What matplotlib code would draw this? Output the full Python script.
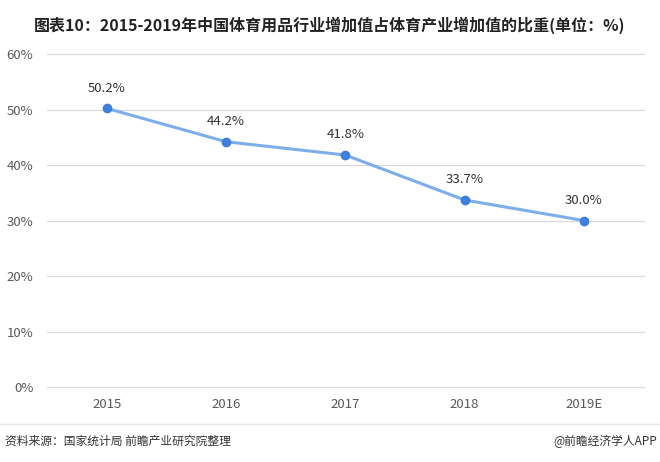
import numpy as np
import matplotlib.pyplot as plt
from matplotlib.lines import Line2D

plt.rcParams['font.family'] = ['Noto Sans CJK SC', 'DejaVu Sans']

years = ['2015', '2016', '2017', '2018', '2019E']
share = [50.2, 44.2, 41.8, 33.7, 30.0]
yticks = [0, 10, 20, 30, 40, 50, 60]

fig = plt.figure(figsize=(6.6, 4.62), dpi=100)
ax = fig.add_axes([0.0718, 0.1623, 0.9032, 0.7207])

x = np.arange(len(years))
ax.plot(x, share, color='#7eaeea', lw=2.2, zorder=3)
ax.plot(x, share, 'o', color='#3f7fdc', ms=6, zorder=4)
for xi, v in zip(x, share):
    ax.annotate(f'{v:.1f}%', (xi, v), xytext=(0, 10), textcoords='offset points',
                ha='center', va='bottom', fontsize=9.5, color='#333333')

ax.set_xlim(-0.5, len(years) - 0.5)
ax.set_ylim(0, 60)
ax.set_yticks(yticks)
ax.set_yticklabels([f'{t}%' for t in yticks])
ax.set_xticks(x)
ax.set_xticklabels(years)
ax.grid(axis='y', color='#d9d9d9', lw=0.9)
for gl in ax.get_ygridlines():
    gl.set_clip_on(False)
ax.set_axisbelow(True)
for s in ax.spines.values():
    s.set_visible(False)
ax.tick_params(length=0, labelsize=9.5, colors='#595959', pad=8)
ax.tick_params(axis='y', pad=10)

fig.text(0.5, 0.945, '图表10：2015-2019年中国体育用品行业增加值占体育产业增加值的比重(单位：%)',
         ha='center', va='center', fontsize=11.5, fontweight='bold', color='#222222')
fig.add_artist(Line2D([0.0, 1.0], [0.082, 0.082], transform=fig.transFigure,
                      color='#e6e9ef', lw=1))
fig.text(0.008, 0.045, '资料来源：国家统计局 前瞻产业研究院整理', ha='left', va='center',
         fontsize=8.5, color='#333333')
fig.text(0.995, 0.045, '@前瞻经济学人APP', ha='right', va='center',
         fontsize=8.5, color='#333333')

fig.savefig('out.png', dpi=100)
